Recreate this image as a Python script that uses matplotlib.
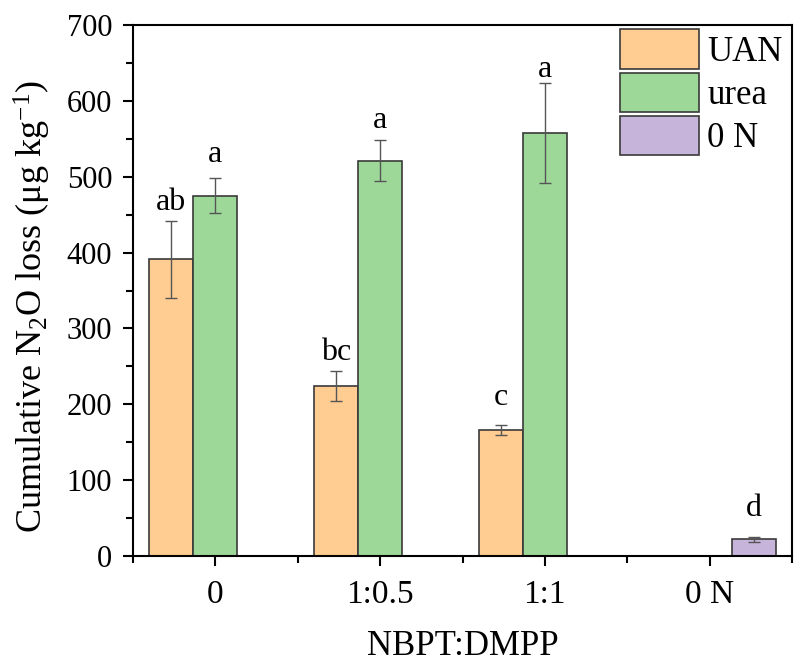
import numpy as np
import matplotlib
matplotlib.use("Agg")
import matplotlib.pyplot as plt
from matplotlib.ticker import MultipleLocator, FixedLocator

plt.rcParams['font.family'] = ['Liberation Serif', 'DejaVu Serif']
plt.rcParams['mathtext.fontset'] = 'custom'
plt.rcParams['mathtext.rm'] = 'Liberation Serif'
plt.rcParams['mathtext.it'] = 'Liberation Serif:italic'

categories = ['0', '1:0.5', '1:1', '0 N']
series = ['UAN', 'urea', '0 N']
uan = [391, 224, 166, np.nan]
uan_err = [51, 20, 7, np.nan]
urea = [475, 521, 558, np.nan]
urea_err = [23, 27, 66, np.nan]
zero_n = [np.nan, np.nan, np.nan, 22]
zero_n_err = [np.nan, np.nan, np.nan, 3]
uan_letters = ['ab', 'bc', 'c', '']
urea_letters = ['a', 'a', 'a', '']
zero_letters = ['', '', '', 'd']
# baseline heights of the significance letters (data units)
uan_letter_y = [456, 258, 199, np.nan]
urea_letter_y = [519, 564, 631, np.nan]
zero_letter_y = [np.nan, np.nan, np.nan, 53]

colors = ['#FFCC91', '#9DD899', '#C6B4DA']

fig = plt.figure(figsize=(7.94, 6.62), dpi=100)
ax = fig.add_axes([133/794, 106/662, 659/794, 531/662])

x = np.arange(len(categories))
w = 0.267
offsets = [-w, 0, w]
vals = [uan, urea, zero_n]
errs = [uan_err, urea_err, zero_n_err]
letters = [uan_letters, urea_letters, zero_letters]
letter_y = [uan_letter_y, urea_letter_y, zero_letter_y]

for i in range(3):
    v = np.array(vals[i], dtype=float)
    e = np.array(errs[i], dtype=float)
    ax.bar(x + offsets[i], v, width=w, color=colors[i], edgecolor='#3a3a3a',
           linewidth=1.2, label=series[i], zorder=2)
    ax.errorbar(x + offsets[i], v, yerr=e, fmt='none', ecolor='#555555',
                elinewidth=1.0, capsize=4, capthick=1.0, zorder=3)
    for xi, ly, lab in zip(x + offsets[i], letter_y[i], letters[i]):
        if lab:
            ax.text(xi, ly, lab, ha='center', va='baseline', fontsize=23)

ax.set_xlim(-0.5, 3.5)
ax.set_ylim(0, 700)
ax.set_xticks(x)
ax.set_xticklabels(categories)
ax.xaxis.set_minor_locator(FixedLocator([-0.5, 0.5, 1.5, 2.5, 3.5]))
ax.yaxis.set_major_locator(MultipleLocator(100))
ax.yaxis.set_minor_locator(MultipleLocator(50))
ax.tick_params(axis='both', which='major', direction='out', length=7, width=1.5,
               top=False, right=False)
ax.tick_params(axis='y', which='major', labelsize=22, pad=8)
ax.tick_params(axis='x', which='major', labelsize=24, pad=10)
ax.tick_params(axis='both', which='minor', direction='out', length=5, width=1.5,
               top=False, right=False)
for s in ax.spines.values():
    s.set_linewidth(1.5)

ax.set_ylabel('Cumulative N$_2$O loss (μg kg$^{-1}$)', fontsize=26)
ax.yaxis.set_label_coords(-0.121, 0.47)
ax.set_xlabel('NBPT:DMPP', fontsize=25)
ax.xaxis.set_label_coords(0.5, -0.14)

ax.legend(loc='upper right', bbox_to_anchor=(1 - 6/659, 1 - 1/531),
          frameon=False, fontsize=25, handlelength=2.25,
          handleheight=1.38, labelspacing=0.1, handletextpad=0.25,
          borderaxespad=0.0, borderpad=0.1)

fig.savefig('out.png', dpi=100)
